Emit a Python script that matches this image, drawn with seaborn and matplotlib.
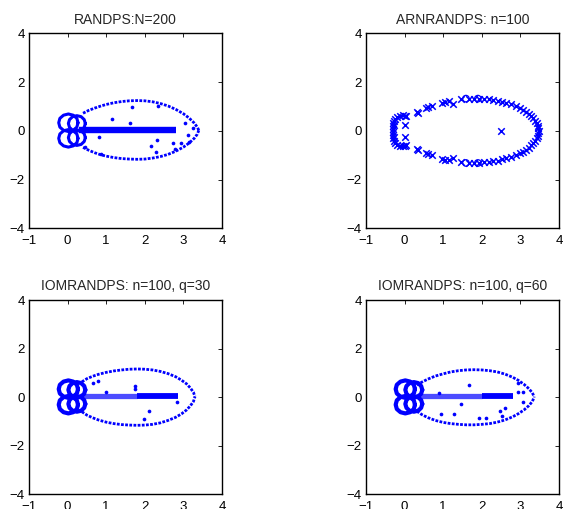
import numpy as np
import matplotlib
matplotlib.use("Agg")
import matplotlib.pyplot as plt
import seaborn as sns

# axes ticks
X_TICKS = [-1, 0, 1, 2, 3, 4]
Y_TICKS = [-4, -2, 0, 2, 4]

TITLES = ["RANDPS:N=200", "ARNRANDPS: n=100",
          "IOMRANDPS: n=100, q=30", "IOMRANDPS: n=100, q=60"]

# small loops near the origin
HEART_X = [
    [0.27, 0.24, 0.145, 0.02, -0.105, -0.20, -0.23, -0.20, -0.105, 0.02, 0.145, 0.24, 0.27],
    [0.46, 0.43, 0.35, 0.24, 0.13, 0.05, 0.02, 0.05, 0.13, 0.24, 0.35, 0.43, 0.46],
    [0.27, 0.24, 0.145, 0.02, -0.105, -0.20, -0.23, -0.20, -0.105, 0.02, 0.145, 0.24, 0.27],
    [0.46, 0.43, 0.35, 0.24, 0.13, 0.05, 0.02, 0.05, 0.13, 0.24, 0.35, 0.43, 0.46],
]
HEART_Y = [
    [0.33, 0.51, 0.64, 0.69, 0.64, 0.51, 0.33, 0.15, 0.02, -0.03, 0.02, 0.15, 0.33],
    [0.30, 0.46, 0.58, 0.62, 0.58, 0.46, 0.30, 0.14, 0.02, -0.02, 0.02, 0.14, 0.30],
    [-0.31, -0.49, -0.62, -0.67, -0.62, -0.49, -0.31, -0.13, 0.0, 0.05, 0.0, -0.13, -0.31],
    [-0.28, -0.44, -0.56, -0.60, -0.56, -0.44, -0.28, -0.12, 0.0, 0.04, 0.0, -0.12, -0.28],
]

# RANDPS N=200
TL_OUT_X = [0.40, 0.55, 0.70, 0.85, 1.00, 1.20, 1.40, 1.60, 1.80, 2.00,
            2.20, 2.40, 2.60, 2.80, 3.00, 3.15, 3.28, 3.36, 3.40]
TL_UP_Y = [0.72, 0.84, 0.93, 1.01, 1.08, 1.15, 1.20, 1.23, 1.24, 1.23,
           1.19, 1.12, 1.02, 0.88, 0.70, 0.52, 0.32, 0.15, 0.02]
TL_LO_Y = [-0.68, -0.80, -0.90, -0.98, -1.04, -1.10, -1.14, -1.16, -1.17, -1.16,
           -1.12, -1.06, -0.97, -0.84, -0.67, -0.50, -0.31, -0.14, 0.02]
TL_BAND_X = [0.30, 2.82]
TL_BAND_Y = [0.03, 0.03]
TL_DOT_X = [1.66, 2.35, 1.14, 1.62, 3.03, 0.82, 2.31, 2.16, 2.29, 2.74,
            2.79, 2.94, 3.13, 3.15, 3.26, 0.45, 0.86]
TL_DOT_Y = [0.96, 1.02, 0.47, 0.31, 0.31, -0.27, -0.38, -0.61, -0.85, -0.49,
            -0.76, -0.51, -0.17, -0.44, 0.10, -0.65, -0.95]

# ARNRANDPS n=100
TR_UP_X = [0.31, 0.36, 0.55, 0.62, 0.72, 0.98, 1.05, 1.16, 1.26, 1.46,
           1.68, 1.80, 1.94, 2.05, 2.19, 2.30, 2.41, 2.52, 2.63, 2.75,
           2.89, 3.00, 3.08, 3.15, 3.22, 3.28, 3.33, 3.38, 3.42, 3.45, 3.47, 3.49]
TR_UP_Y = [0.76, 0.72, 0.92, 0.96, 1.02, 1.15, 1.17, 1.22, 1.10, 1.29,
           1.32, 1.32, 1.32, 1.30, 1.29, 1.26, 1.23, 1.18, 1.13, 1.08,
           1.02, 0.93, 0.86, 0.78, 0.69, 0.60, 0.51, 0.40, 0.30, 0.20, 0.10, 0.0]
TR_LO_X = [0.31, 0.36, 0.55, 0.62, 0.72, 0.98, 1.05, 1.16, 1.26, 1.46,
           1.68, 1.80, 1.94, 2.05, 2.19, 2.30, 2.41, 2.52, 2.63, 2.75,
           2.89, 3.00, 3.08, 3.15, 3.22, 3.28, 3.33, 3.38, 3.42, 3.45, 3.47]
TR_LO_Y = [-0.74, -0.78, -0.91, -0.95, -0.99, -1.15, -1.18, -1.20, -1.10, -1.30,
           -1.32, -1.32, -1.31, -1.30, -1.28, -1.25, -1.22, -1.17, -1.13, -1.07,
           -1.01, -0.93, -0.86, -0.78, -0.69, -0.60, -0.51, -0.40, -0.30, -0.20, -0.10]
TR_BRACKET_X = [0.04, 0.0, -0.05, -0.12, -0.20, -0.25, -0.28, -0.30, -0.31, -0.31,
                -0.31, -0.31, -0.30, -0.28, -0.25, -0.20, -0.12, -0.05, 0.0, 0.04,
                -0.27, -0.27, 0.0, 0.0, 2.49]
TR_BRACKET_Y = [0.60, 0.62, 0.63, 0.62, 0.58, 0.50, 0.40, 0.30, 0.18, 0.06,
                -0.06, -0.18, -0.30, -0.40, -0.50, -0.58, -0.62, -0.63, -0.62, -0.60,
                0.25, -0.25, 0.23, -0.24, 0.0]
TR_RING_X = [1.59, 1.90, 1.59, 1.90]
TR_RING_Y = [1.32, 1.32, -1.32, -1.32]

# IOMRANDPS q=30
BL_OUT_X = [0.37, 0.50, 0.65, 0.80, 1.00, 1.20, 1.40, 1.60, 1.80, 2.00,
            2.20, 2.40, 2.60, 2.80, 2.95, 3.08, 3.18, 3.26, 3.30]
BL_UP_Y = [0.63, 0.76, 0.86, 0.94, 1.02, 1.08, 1.12, 1.15, 1.16, 1.15,
           1.12, 1.06, 0.97, 0.84, 0.70, 0.55, 0.38, 0.20, 0.02]
BL_LO_Y = [-0.60, -0.74, -0.85, -0.94, -1.03, -1.09, -1.13, -1.15, -1.16, -1.15,
           -1.12, -1.06, -0.96, -0.83, -0.69, -0.53, -0.36, -0.18, 0.02]
BL_LIGHT_X = [0.30, 1.80]
BL_SOLID_X = [1.80, 2.85]
BL_BAND_Y = [0.03, 0.03]
BL_DOT_X = [1.75, 1.75, 0.99, 2.12, 1.99, 2.83, 0.67, 0.80]
BL_DOT_Y = [0.44, 0.35, 0.20, -0.56, -0.89, -0.22, 0.58, 0.68]

# IOMRANDPS q=60
BR_OUT_X = [0.32, 0.45, 0.60, 0.80, 1.00, 1.20, 1.40, 1.60, 1.80, 2.00,
            2.20, 2.40, 2.60, 2.80, 2.95, 3.10, 3.22, 3.31, 3.36]
BR_UP_Y = [0.50, 0.62, 0.74, 0.87, 0.96, 1.04, 1.09, 1.12, 1.13, 1.12,
           1.09, 1.04, 0.95, 0.82, 0.69, 0.52, 0.35, 0.18, 0.01]
BR_LO_Y = [-0.58, -0.72, -0.84, -0.96, -1.04, -1.09, -1.12, -1.14, -1.14, -1.12,
           -1.09, -1.03, -0.94, -0.81, -0.68, -0.52, -0.35, -0.18, 0.01]
BR_LIGHT_X = [0.30, 2.00]
BR_SOLID_X = [2.00, 2.82]
BR_BAND_Y = [0.03, 0.03]
BR_DOT_X = [1.68, 0.90, 1.45, 1.29, 0.94, 1.94, 2.11, 2.47, 2.52, 2.59,
            2.93, 3.08, 3.06, 2.93]
BR_DOT_Y = [0.51, 0.18, -0.29, -0.70, -0.68, -0.86, -0.86, -0.56, -0.77, -0.45,
            0.20, 0.20, -0.18, 0.58]

BLUE = "#0000ff"


def style_axes(ax, title):
    """MATLAB like box axes"""
    ax.set_xlim(-1, 4)
    ax.set_ylim(-4, 4)
    ax.set_xticks(X_TICKS)
    ax.set_yticks(Y_TICKS)
    ax.tick_params(direction="in", top=True, right=True, length=3, width=0.6,
                   labelsize=9.5, colors="black")
    ax.tick_params(axis="x", pad=5)
    ax.tick_params(axis="y", pad=3)
    for s in ax.spines.values():
        s.set_visible(True)
        s.set_linewidth(1.0)
        s.set_color("black")
    ax.set_title(title, fontsize=10, pad=7)
    ax.set_xlabel("")
    ax.set_ylabel("")


def draw_line(ax, x, y, **kw):
    sns.lineplot(x=x, y=y, sort=False, estimator=None, color=BLUE, ax=ax, **kw)


def draw_dots_panel(ax, out_x, up_y, lo_y, dot_x, dot_y, heart_lw):
    # 边界上的密集点
    draw_line(ax, out_x, up_y, lw=2.0, linestyle=(0, (1, 0.5)))
    draw_line(ax, out_x, lo_y, lw=2.0, linestyle=(0, (1, 0.5)))
    for hx, hy in zip(HEART_X, HEART_Y):
        draw_line(ax, hx, hy, lw=heart_lw)
    sns.scatterplot(x=dot_x, y=dot_y, color=BLUE, s=7, linewidth=0, ax=ax)


def main():
    sns.set_theme(style="white")
    plt.rcParams["font.family"] = ["Liberation Sans", "DejaVu Sans"]
    plt.rcParams["axes.unicode_minus"] = True

    fig = plt.figure(figsize=(5.63, 5.09), dpi=100)
    ax_tl = fig.add_axes([0.0515, 0.5515, 0.3428, 0.3831])
    ax_tr = fig.add_axes([0.6500, 0.5515, 0.3428, 0.3831])
    ax_bl = fig.add_axes([0.0515, 0.0289, 0.3428, 0.3817])
    ax_br = fig.add_axes([0.6500, 0.0289, 0.3428, 0.3817])

    # RANDPS
    draw_dots_panel(ax_tl, TL_OUT_X, TL_UP_Y, TL_LO_Y, TL_DOT_X, TL_DOT_Y, 2.2)
    draw_line(ax_tl, TL_BAND_X, TL_BAND_Y, lw=4.6, solid_capstyle="butt")

    # ARNRANDPS
    sns.scatterplot(x=TR_UP_X, y=TR_UP_Y, marker="x", s=22, color=BLUE, linewidth=1.1, ax=ax_tr)
    sns.scatterplot(x=TR_LO_X, y=TR_LO_Y, marker="x", s=22, color=BLUE, linewidth=1.1, ax=ax_tr)
    sns.scatterplot(x=TR_BRACKET_X, y=TR_BRACKET_Y, marker="x", s=22, color=BLUE, linewidth=1.1, ax=ax_tr)
    sns.scatterplot(x=TR_RING_X, y=TR_RING_Y, marker="o", s=22, facecolor="none",
                    edgecolor=BLUE, linewidth=0.9, ax=ax_tr)

    # IOMRANDPS q=30
    draw_dots_panel(ax_bl, BL_OUT_X, BL_UP_Y, BL_LO_Y, BL_DOT_X, BL_DOT_Y, 3.0)
    draw_line(ax_bl, BL_LIGHT_X, BL_BAND_Y, lw=3.8, alpha=0.7, solid_capstyle="butt")
    draw_line(ax_bl, BL_SOLID_X, BL_BAND_Y, lw=4.2, solid_capstyle="butt")

    # IOMRANDPS q=60
    draw_dots_panel(ax_br, BR_OUT_X, BR_UP_Y, BR_LO_Y, BR_DOT_X, BR_DOT_Y, 3.0)
    draw_line(ax_br, BR_LIGHT_X, BR_BAND_Y, lw=3.8, alpha=0.7, solid_capstyle="butt")
    draw_line(ax_br, BR_SOLID_X, BR_BAND_Y, lw=4.2, solid_capstyle="butt")

    for ax, title in zip([ax_tl, ax_tr, ax_bl, ax_br], TITLES):
        style_axes(ax, title)

    fig.savefig("out.png", dpi=100)


if __name__ == "__main__":
    main()
